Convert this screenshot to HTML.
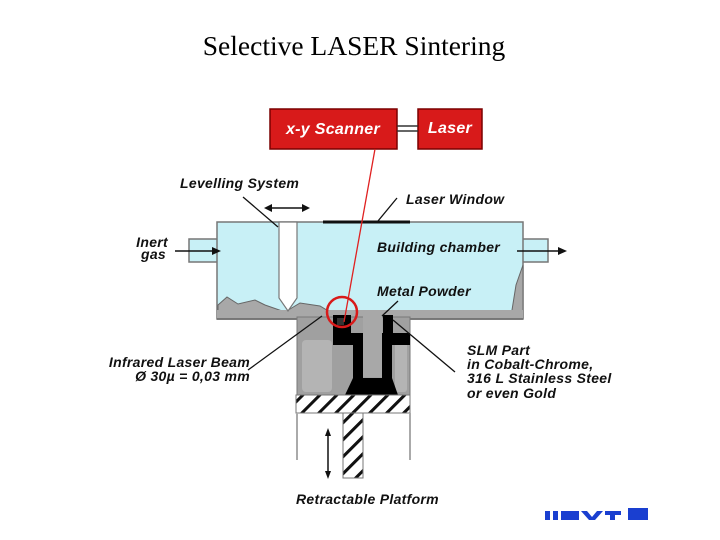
<!DOCTYPE html>
<html><head><meta charset="utf-8"><style>
html,body{margin:0;padding:0;background:#fff;}
svg{display:block;}
.l{font-family:"Liberation Sans",sans-serif;font-style:italic;font-weight:bold;font-size:14px;letter-spacing:0.3px;fill:#111;}
</style></head><body>
<svg width="720" height="540" viewBox="0 0 720 540" xmlns="http://www.w3.org/2000/svg">
<text x="354" y="55" text-anchor="middle" font-family="Liberation Serif,serif" font-size="27.5" fill="#000">Selective LASER Sintering</text>

<!-- scanner and laser -->
<rect x="270" y="109" width="127" height="40" fill="#d81a1a" stroke="#7a0000" stroke-width="1.5"/>
<text x="333" y="134" text-anchor="middle" class="l" style="fill:#fff;font-size:16px">x-y Scanner</text>
<rect x="418" y="109" width="64" height="40" fill="#d81a1a" stroke="#7a0000" stroke-width="1.5"/>
<text x="450" y="133" text-anchor="middle" class="l" style="fill:#fff;font-size:16px">Laser</text>
<line x1="397" y1="126" x2="418" y2="126" stroke="#333" stroke-width="1.5"/>
<line x1="397" y1="131" x2="418" y2="131" stroke="#333" stroke-width="1.5"/>

<!-- inlets -->
<rect x="189" y="239" width="30" height="23" fill="#c8f0f6" stroke="#777" stroke-width="1.5"/>
<rect x="520" y="239" width="28" height="23" fill="#c8f0f6" stroke="#777" stroke-width="1.5"/>
<!-- chamber -->
<rect x="217" y="222" width="306" height="97" fill="#c8f0f6" stroke="#777" stroke-width="1.5"/>
<rect x="218" y="240" width="3" height="21" fill="#c8f0f6"/>
<rect x="519" y="240" width="3" height="21" fill="#c8f0f6"/>
<!-- powder -->
<path d="M218,305 L227,297 L238,304 L255,300 L265,305 L285,312 L300,303 L320,306 L340,318 L218,318 Z" fill="#a8a8a8" stroke="#666" stroke-width="1"/>
<path d="M523,265 L516,285 L512,310 L523,318 Z" fill="#a8a8a8" stroke="#666" stroke-width="1"/>
<rect x="217" y="310" width="306" height="9" fill="#a8a8a8"/>
<line x1="217" y1="319" x2="300" y2="319" stroke="#666" stroke-width="1.5"/>
<line x1="410" y1="319" x2="523" y2="319" stroke="#666" stroke-width="1.5"/>
<!-- lower body -->
<rect x="297" y="317" width="113" height="78" fill="#a0a0a0" stroke="#777" stroke-width="1"/>
<rect x="302" y="340" width="30" height="52" rx="4" fill="#b4b4b4"/>
<rect x="395" y="340" width="12" height="52" rx="3" fill="#b4b4b4"/>
<!-- part -->
<rect x="333" y="315" width="18" height="30" fill="#000"/>
<rect x="333" y="333" width="30" height="12" fill="#000"/>
<rect x="353" y="333" width="10" height="52" fill="#000"/>
<rect x="383" y="315" width="10" height="30" fill="#000"/>
<rect x="383" y="333" width="27" height="12" fill="#000"/>
<rect x="382" y="333" width="10" height="52" fill="#000"/>
<path d="M353,378 L392,378 L398,395 L345,395 Z" fill="#000"/>
<rect x="363" y="315" width="19" height="62" fill="#a8a8a8"/>
<rect x="337" y="318" width="7" height="7" fill="#333"/>
<!-- platform -->
<defs><pattern id="h" width="12" height="12" patternUnits="userSpaceOnUse" patternTransform="rotate(45)"><rect width="12" height="12" fill="#fff"/><rect width="3" height="12" fill="#111"/></pattern></defs>
<rect x="296" y="395" width="114" height="18" fill="url(#h)" stroke="#777" stroke-width="1"/>
<rect x="343" y="413" width="20" height="65" fill="url(#h)" stroke="#777" stroke-width="1"/>
<line x1="297" y1="413" x2="297" y2="460" stroke="#aaa" stroke-width="2"/>
<line x1="410" y1="413" x2="410" y2="460" stroke="#aaa" stroke-width="2"/>
<line x1="328" y1="432" x2="328" y2="475" stroke="#111" stroke-width="1.5"/>
<path d="M325,436 L328,428 L331,436 Z M325,471 L328,479 L331,471 Z" fill="#111"/>

<!-- levelling -->
<path d="M279,222 L297,222 L297,298 L288,311 L279,298 Z" fill="#fff" stroke="#777" stroke-width="1.2"/>
<line x1="243" y1="197" x2="278" y2="227" stroke="#111" stroke-width="1.3"/>
<line x1="268" y1="208" x2="306" y2="208" stroke="#111" stroke-width="1.5"/>
<path d="M272,204 L264,208 L272,212 Z M302,204 L310,208 L302,212 Z" fill="#111"/>
<!-- window -->
<line x1="323" y1="222" x2="410" y2="222" stroke="#111" stroke-width="3"/>
<line x1="378" y1="221" x2="397" y2="198" stroke="#111" stroke-width="1.3"/>
<!-- gas arrows -->
<line x1="175" y1="251" x2="214" y2="251" stroke="#111" stroke-width="1.5"/>
<path d="M212,247 L221,251 L212,255 Z" fill="#111"/>
<line x1="517" y1="251" x2="560" y2="251" stroke="#111" stroke-width="1.5"/>
<path d="M558,247 L567,251 L558,255 Z" fill="#111"/>
<!-- laser beam -->
<line x1="375" y1="149" x2="344" y2="322" stroke="#e02020" stroke-width="1.3"/>
<circle cx="342" cy="312" r="15" fill="none" stroke="#d81a1a" stroke-width="2.5"/>
<!-- leaders -->
<line x1="248" y1="370" x2="322" y2="316" stroke="#111" stroke-width="1.3"/>
<line x1="455" y1="372" x2="393" y2="320" stroke="#111" stroke-width="1.3"/>
<line x1="382" y1="316" x2="398" y2="301" stroke="#111" stroke-width="1.3"/>

<!-- labels -->
<text x="180" y="188" class="l">Levelling System</text>
<text x="406" y="204" class="l">Laser Window</text>
<text x="168" y="247" text-anchor="end" class="l">Inert</text>
<text x="166" y="259" text-anchor="end" class="l">gas</text>
<text x="377" y="252" class="l">Building chamber</text>
<text x="377" y="296" class="l">Metal Powder</text>
<text x="250" y="367" text-anchor="end" class="l">Infrared Laser Beam</text>
<text x="250" y="381" text-anchor="end" class="l">Ø 30µ = 0,03 mm</text>
<text x="467" y="355" class="l">SLM Part</text>
<text x="467" y="369" class="l">in Cobalt-Chrome,</text>
<text x="467" y="383" class="l">316 L Stainless Steel</text>
<text x="467" y="398" class="l">or even Gold</text>
<text x="296" y="504" class="l">Retractable Platform</text>
<!-- logo -->
<g fill="#1a3fd0">
<rect x="545" y="511" width="5" height="9"/><rect x="553" y="511" width="5" height="9"/>
<rect x="561" y="511" width="18" height="9"/>
<path d="M581,511 L587,511 L592,517 L597,511 L603,511 L595,520 L589,520 Z"/>
<rect x="605" y="511" width="16" height="4"/><rect x="610" y="515" width="5" height="5"/>
<rect x="628" y="508" width="20" height="12"/>
</g>
</svg>
</body></html>
